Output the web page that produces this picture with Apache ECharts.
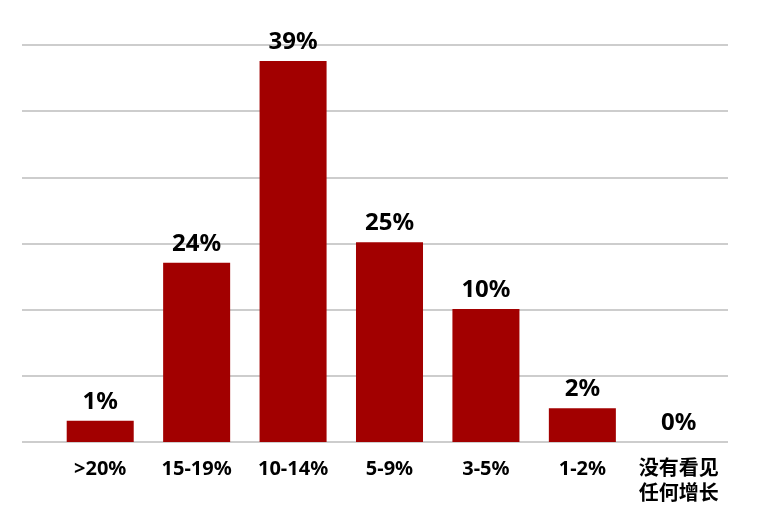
<!DOCTYPE html>
<html>
<head>
<meta charset="utf-8">
<script src="https://cdn.jsdelivr.net/npm/echarts@6/dist/echarts.min.js"></script>
<style>html,body{margin:0;padding:0;background:#fff;}#c{width:761px;height:520px;}</style>
</head>
<body>
<div id="c"></div>
<script>
const categories = ['>20%', '15-19%', '10-14%', '5-9%', '3-5%', '1-2%', '没有看见\n任何增长'];
// bar heights (axis units, one gridline = 10)
const barValues = [3.2, 27.1, 57.6, 30.2, 20.1, 5.1, 0];
// printed value labels
const valueLabels = ['1%', '24%', '39%', '25%', '10%', '2%', '0%'];
const axisMax = 60;
const axisInterval = 10;

const font = '"Noto Sans", "Noto Sans CJK SC", sans-serif';
const chart = echarts.init(document.getElementById('c'), null, {renderer: 'canvas'});
chart.setOption({
  animation: false,
  backgroundColor: '#fff',
  grid: [
    {left: 22, right: 33, top: 45, bottom: 78},
    {left: 52, right: 34, top: 45, bottom: 78}
  ],
  xAxis: [
    {gridIndex: 0, type: 'value', show: false, min: 0, max: 1},
    {gridIndex: 1, type: 'category', data: categories,
     axisLine: {show: false}, axisTick: {show: false},
     axisLabel: {color: '#000', fontFamily: font, fontWeight: 'bold', fontSize: 20, lineHeight: 25, margin: 15, interval: 0}}
  ],
  yAxis: [
    {gridIndex: 0, type: 'value', min: 0, max: axisMax, interval: axisInterval,
     axisLine: {show: false}, axisTick: {show: false}, axisLabel: {show: false},
     splitLine: {show: true, lineStyle: {color: '#bcbcbc', width: 1.5}}},
    {gridIndex: 1, type: 'value', min: 0, max: axisMax, interval: axisInterval, show: false,
     splitLine: {show: false}}
  ],
  series: [{
    type: 'bar',
    xAxisIndex: 1, yAxisIndex: 1,
    data: barValues,
    barWidth: '69.5%',
    itemStyle: {color: '#a20000'},
    label: {
      show: true, position: 'top', distance: 7,
      color: '#000', fontFamily: font, fontWeight: 'bold', fontSize: 24,
      formatter: p => valueLabels[p.dataIndex]
    }
  }]
});
</script>
</body>
</html>
